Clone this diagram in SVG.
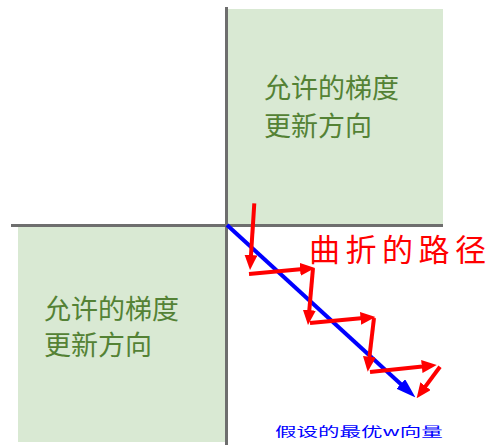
<svg xmlns="http://www.w3.org/2000/svg" width="487" height="445" viewBox="0 0 487 445">
<style>
.box{fill:#d9e9d3;stroke:none}
.axis{stroke:#6e6e6e;stroke-width:3;fill:none}
.lbl{font-family:"Noto Sans CJK SC","Noto Sans",sans-serif;fill:#548235;font-size:27px}
.red{stroke:#ff0000;stroke-width:4;fill:none}
.blue{stroke:#0000ff;stroke-width:4;fill:none}
</style>
<defs>
<marker id="ah-red" markerUnits="userSpaceOnUse" viewBox="0 0 15 13" markerWidth="15" markerHeight="13" refX="3" refY="6.5" orient="auto"><path d="M0,0 L15,6.5 L0,13 z" fill="#ff0000"/></marker>
<marker id="ah-blue" markerUnits="userSpaceOnUse" viewBox="0 0 20 13" markerWidth="20" markerHeight="13" refX="4" refY="6.5" orient="auto"><path d="M0,0 L20,6.5 L0,13 z" fill="#0000ff"/></marker>
</defs>
<rect width="487" height="445" fill="#ffffff"/>
<g id="region-top-right">
<rect class="box" x="228" y="9" width="215" height="215"/>
<text class="lbl" x="264" y="98">允许的梯度</text>
<text class="lbl" x="264" y="136">更新方向</text>
</g>
<g id="region-bottom-left">
<rect class="box" x="18" y="227" width="207" height="215"/>
<text class="lbl" x="44" y="319">允许的梯度</text>
<text class="lbl" x="44" y="355">更新方向</text>
</g>
<g id="axes">
<line class="axis" x1="226.5" y1="7" x2="226.5" y2="445"/>
<line class="axis" x1="11" y1="225.5" x2="443" y2="225.5"/>
</g>
<g id="connectors">
<line class="blue" x1="227" y1="225" x2="403.7" y2="386.7" marker-end="url(#ah-blue)"/>
<line class="red" x1="254.3" y1="203.3" x2="250.8" y2="258" marker-end="url(#ah-red)"/>
<line class="red" x1="249" y1="274" x2="303.05" y2="269.1" marker-end="url(#ah-red)"/>
<line class="red" x1="313" y1="268" x2="309.05" y2="313.05" marker-end="url(#ah-red)"/>
<line class="red" x1="310" y1="323" x2="363.55" y2="318.1" marker-end="url(#ah-red)"/>
<line class="red" x1="374" y1="318" x2="369.1" y2="359.8" marker-end="url(#ah-red)"/>
<line class="red" x1="370" y1="372" x2="424.8" y2="366.25" marker-end="url(#ah-red)"/>
<line class="red" x1="440" y1="366.7" x2="423.8" y2="388.6" marker-end="url(#ah-red)"/>
</g>
<g id="label-path">
<text x="309 345.5 382 418.5 455" y="261" font-family="'Noto Sans CJK SC','Noto Sans',sans-serif" font-size="31" fill="#ff0000">曲折的路径</text>
</g>
<g id="label-w">
<text transform="translate(275,435.5) scale(1,0.6)" x="0" y="0" font-family="'Noto Sans CJK SC','Noto Sans',sans-serif" font-size="21.5" fill="#0000ff">假设的最优w向量</text>
</g>
</svg>
